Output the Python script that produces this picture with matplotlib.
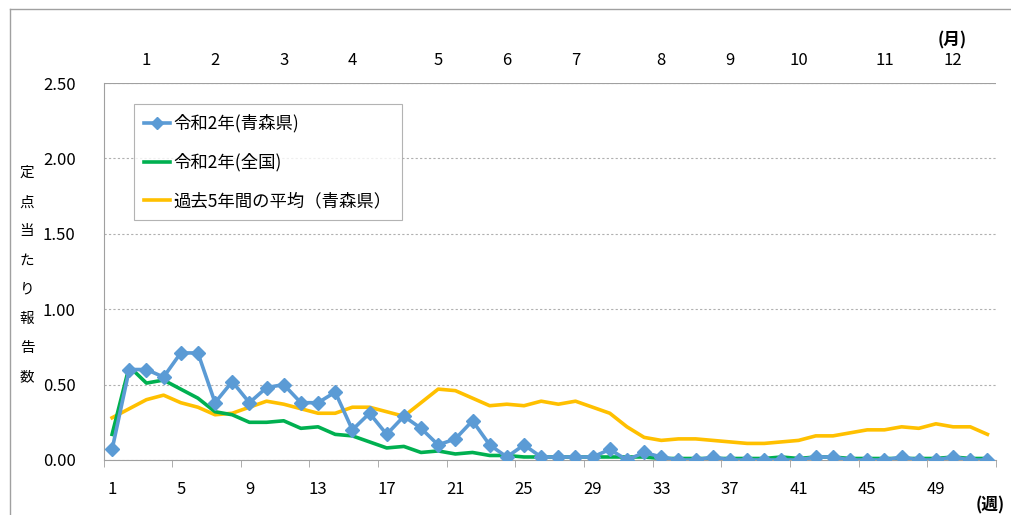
import numpy as np
import matplotlib.pyplot as plt
from matplotlib.lines import Line2D

plt.rcParams['font.family'] = ['Noto Sans CJK JP', 'DejaVu Sans']

# =========
# data

weeks = np.arange(1, 53)

aomori_2020 = [0.07, 0.60, 0.60, 0.55, 0.71, 0.71, 0.38, 0.52, 0.38, 0.48,
               0.50, 0.38, 0.38, 0.45, 0.20, 0.31, 0.17, 0.29, 0.21, 0.10,
               0.14, 0.26, 0.10, 0.02, 0.10, 0.02, 0.02, 0.02, 0.02, 0.07,
               0.00, 0.05, 0.02, 0.00, 0.00, 0.02, 0.00, 0.00, 0.00, 0.00,
               0.00, 0.02, 0.02, 0.00, 0.00, 0.00, 0.02, 0.00, 0.00, 0.02,
               0.00, 0.00]

national_2020 = [0.17, 0.62, 0.51, 0.53, 0.47, 0.41, 0.32, 0.30, 0.25, 0.25,
                 0.26, 0.21, 0.22, 0.17, 0.16, 0.12, 0.08, 0.09, 0.05, 0.06,
                 0.04, 0.05, 0.03, 0.03, 0.02, 0.02, 0.02, 0.02, 0.02, 0.02,
                 0.02, 0.02, 0.01, 0.01, 0.01, 0.01, 0.01, 0.01, 0.01, 0.02,
                 0.01, 0.02, 0.02, 0.01, 0.01, 0.01, 0.01, 0.01, 0.01, 0.02,
                 0.01, 0.01]

past5_avg = [0.28, 0.34, 0.40, 0.43, 0.38, 0.35, 0.30, 0.31, 0.35, 0.39,
             0.37, 0.34, 0.31, 0.31, 0.35, 0.35, 0.32, 0.29, 0.38, 0.47,
             0.46, 0.41, 0.36, 0.37, 0.36, 0.39, 0.37, 0.39, 0.35, 0.31,
             0.22, 0.15, 0.13, 0.14, 0.14, 0.13, 0.12, 0.11, 0.11, 0.12,
             0.13, 0.16, 0.16, 0.18, 0.20, 0.20, 0.22, 0.21, 0.24, 0.22,
             0.22, 0.17]

week_labels = [1, 5, 9, 13, 17, 21, 25, 29, 33, 37, 41, 45, 49]
month_labels = ['1', '2', '3', '4', '5', '6', '7', '8', '9', '10', '11', '12']
month_weeks = [3, 7, 11, 15, 20, 24, 28, 33, 37, 41, 46, 50]

series_names = ['令和2年(青森県)', '令和2年(全国)', '過去5年間の平均（青森県）']

# =========
# plot

fig = plt.figure(figsize=(10.12, 5.15), dpi=100)
W, H = 1012, 515
ax = fig.add_axes([103.5 / W, 55 / H, (996 - 103.5) / W, (460 - 83) / H])

blue = '#5B9BD5'
green = '#00B050'
yellow = '#FFC000'

ax.plot(weeks, past5_avg, color=yellow, lw=2.6, zorder=3)
ax.plot(weeks, national_2020, color=green, lw=2.6, zorder=4)
ax.plot(weeks, aomori_2020, color=blue, lw=2.6, marker='D', ms=7,
        zorder=5)

ax.set_xlim(0.5, 52.5)
ax.set_ylim(0, 2.5)
yt = np.arange(0, 2.51, 0.5)
ax.set_yticks(yt)
ax.set_yticklabels([f'{v:.2f}' for v in yt], fontsize=12)
ax.yaxis.grid(True, color='#B0B0B0', ls=(0, (2, 2)), lw=0.8)
ax.set_axisbelow(True)

ax.set_xticks(week_labels)
ax.set_xticklabels([str(w) for w in week_labels], fontsize=12)
ax.set_xticks(np.arange(0.5, 53, 4), minor=True)
ax.tick_params(axis='x', which='major', length=0, pad=15)
ax.tick_params(axis='x', which='minor', length=5, color='#A0A0A0')
ax.tick_params(axis='y', length=0, pad=20)

for s in ['top', 'right']:
    ax.spines[s].set_visible(False)
ax.spines['left'].set_color('#A0A0A0')
ax.spines['bottom'].set_color('#A0A0A0')
ax.axhline(2.5, color='#A0A0A0', lw=0.8)

for m, w in zip(month_labels, month_weeks):
    ax.text(w, 2.5 + 23 / 150.8, m, ha='center', va='center', fontsize=12)

fig.text(952 / W, 1 - 40 / H, '(月)', ha='center', va='center',
         fontsize=12, fontweight='bold')
fig.text(990 / W, 1 - 505 / H, '(週)', ha='center', va='center',
         fontsize=12, fontweight='bold')

ylabel = '定点当たり報告数'
for i, ch in enumerate(ylabel):
    fig.text(27 / W, 1 - (173 + i * 29.2) / H, ch, ha='center', va='center',
             fontsize=10.5)

handles = [
    Line2D([], [], color=blue, lw=2.6, marker='D', ms=6),
    Line2D([], [], color=green, lw=2.6),
    Line2D([], [], color=yellow, lw=2.6),
]
leg = ax.legend(handles, series_names, loc='upper left',
                bbox_to_anchor=(134 / W, 1 - 104 / H),
                bbox_transform=fig.transFigure, fontsize=12.5,
                frameon=True, fancybox=False, edgecolor='#A0A0A0',
                handlelength=1.45, handletextpad=0.2, labelspacing=1.17,
                borderpad=0.6, borderaxespad=0)
leg.get_frame().set_linewidth(0.8)

# outer chart frame
fig.add_artist(Line2D([10 / W, 10 / W], [0, 1 - 9 / H],
                      transform=fig.transFigure, color='#A0A0A0', lw=1))
fig.add_artist(Line2D([10 / W, 1], [1 - 9 / H, 1 - 9 / H],
                      transform=fig.transFigure, color='#A0A0A0', lw=1))

fig.savefig('out.png', dpi=100)
